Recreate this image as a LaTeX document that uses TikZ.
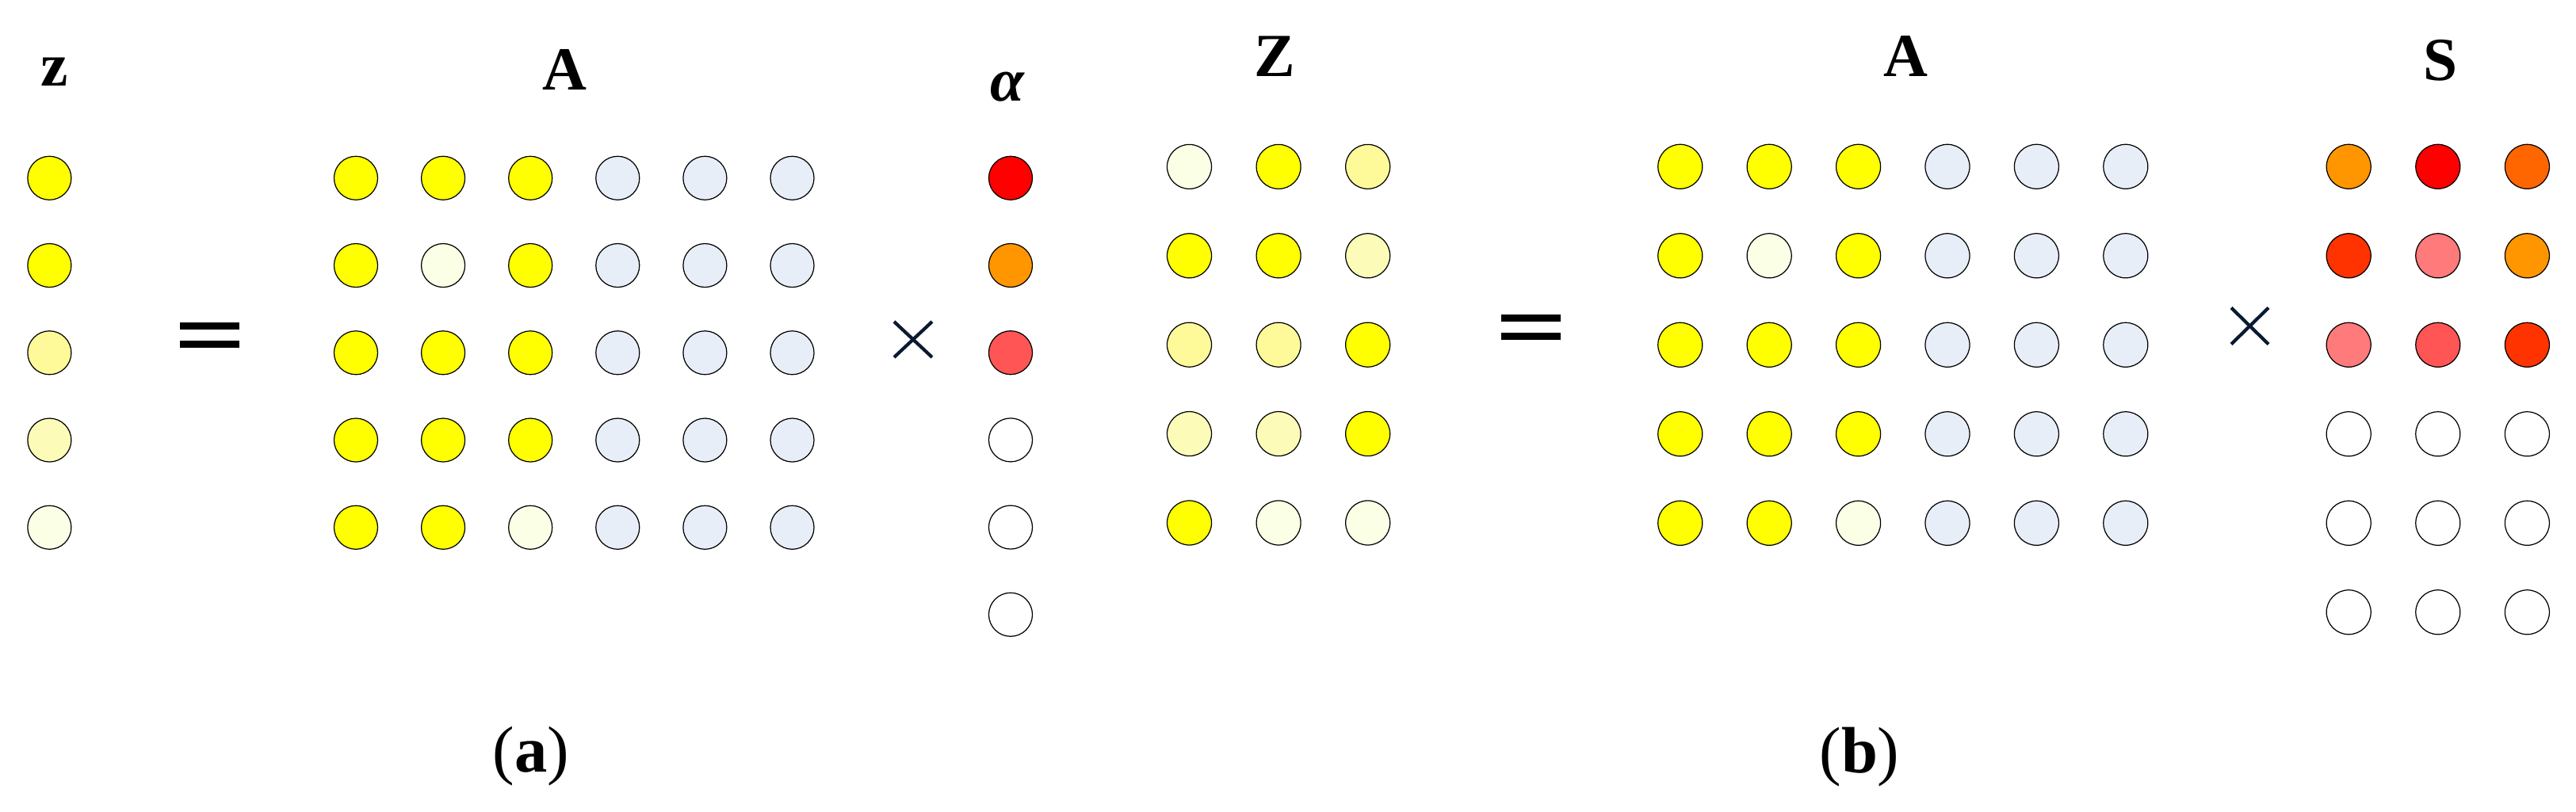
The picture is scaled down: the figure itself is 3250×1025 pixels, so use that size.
\documentclass[tikz,border=0pt]{standalone}
\usepackage{fontspec}
\setmainfont{Liberation Serif}
\definecolor{Y}{HTML}{FFFF00}
\definecolor{LYa}{HTML}{FFFA99}
\definecolor{LYb}{HTML}{FCFCB8}
\definecolor{LYc}{HTML}{FAFFE6}
\definecolor{LB}{HTML}{E8EEF8}
\definecolor{W}{HTML}{FFFFFF}
\definecolor{Ra}{HTML}{FF0000}
\definecolor{Or}{HTML}{FF9600}
\definecolor{Rl}{HTML}{FF5555}
\definecolor{Ro}{HTML}{FF6600}
\definecolor{Rr}{HTML}{FF3300}
\definecolor{Pk}{HTML}{FF7A7A}
\definecolor{Xc}{HTML}{0A1A30}
\tikzset{
  dota/.style={circle,draw=black,line width=0.35pt,inner sep=0pt,minimum size=0.55cm},
  dotb/.style={circle,draw=black,line width=0.35pt,inner sep=0pt,minimum size=0.56cm},
  lbl/.style={inner sep=0pt,anchor=base,font=\fontsize{22}{26}\selectfont\bfseries},
  captext/.style={inner sep=0pt,anchor=base,font=\fontsize{23.5}{28}\selectfont},
  eqbar/.style={fill=black,draw=none},
  timesline/.style={draw=Xc,line width=1.2pt}
}
\begin{document}
\begin{tikzpicture}[x=0.01cm,y=-0.01cm]
\path[use as bounding box] (0,0) rectangle (3250,1025);
% ---------- (a) ----------
\node[lbl] (lz) at (69,109) {z};
\foreach \c [count=\i] in {Y,Y,LYa,LYb,LYc}
  \node[dota,fill=\c] (z\i) at (62.4,{224.8+110.25*(\i-1)}) {};
\fill[eqbar] (227,407.5) rectangle (302,416.1);
\fill[eqbar] (227,430) rectangle (302,438.6);
\node[lbl] (lAa) at (712,114) {A};
\foreach \row [count=\i] in {{Y,Y,Y,LB,LB,LB},{Y,LYc,Y,LB,LB,LB},{Y,Y,Y,LB,LB,LB},{Y,Y,Y,LB,LB,LB},{Y,Y,LYc,LB,LB,LB}}
  \foreach \c [count=\j] in \row
    \node[dota,fill=\c] (Aa\i\j) at ({449+110.1*(\j-1)},{224.8+110.25*(\i-1)}) {};
\draw[timesline] (1128,406) -- (1176,451);
\draw[timesline] (1176,406) -- (1128,451);
\node[lbl] (lal) at (1271,128) {\itshape α};
\foreach \c [count=\i] in {Ra,Or,Rl,W,W,W}
  \node[dota,fill=\c] (al\i) at (1275,{224.8+110.2*(\i-1)}) {};
\node[captext] (capa) at (670,975) {(\textbf{a})};
% ---------- (b) ----------
\node[lbl] (lZ) at (1608,96.5) {Z};
\foreach \row [count=\i] in {{LYc,Y,LYa},{Y,Y,LYb},{LYa,LYa,Y},{LYb,LYb,Y},{Y,LYc,LYc}}
  \foreach \c [count=\j] in \row
    \node[dotb,fill=\c] (Z\i\j) at ({1500.5+112.6*(\j-1)},{210.4+112.4*(\i-1)}) {};
\fill[eqbar] (1894,397.5) rectangle (1969,406.1);
\fill[eqbar] (1894,420) rectangle (1969,428.6);
\node[lbl] (lAb) at (2404,96.5) {A};
\foreach \row [count=\i] in {{Y,Y,Y,LB,LB,LB},{Y,LYc,Y,LB,LB,LB},{Y,Y,Y,LB,LB,LB},{Y,Y,Y,LB,LB,LB},{Y,Y,LYc,LB,LB,LB}}
  \foreach \c [count=\j] in \row
    \node[dotb,fill=\c] (Ab\i\j) at ({2119.8+112.4*(\j-1)},{210.3+112.5*(\i-1)}) {};
\draw[timesline] (2815,388.5) -- (2862,434.5);
\draw[timesline] (2862,388.5) -- (2815,434.5);
\node[lbl] (lS) at (3079,102) {S};
\foreach \row [count=\i] in {{Or,Ra,Ro},{Rr,Pk,Or},{Pk,Rl,Rr},{W,W,W},{W,W,W},{W,W,W}}
  \foreach \c [count=\j] in \row
    \node[dotb,fill=\c] (S\i\j) at ({2963.2+112.6*(\j-1)},{210.3+112.5*(\i-1)}) {};
\node[captext] (capb) at (2346,976) {(\textbf{b})};
\end{tikzpicture}
\end{document}
